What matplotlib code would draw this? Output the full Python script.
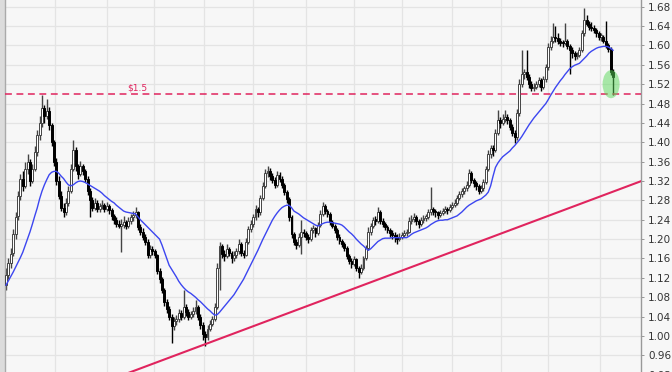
import matplotlib
matplotlib.use("Agg")
import matplotlib.pyplot as plt
from matplotlib.patches import Ellipse, Rectangle
import numpy as np

# ---- data ----
opens = [
 1.105,1.125,1.150,1.172,1.210,1.248,1.290,1.325,1.310,1.345,
 1.360,1.320,1.345,1.380,1.415,1.440,1.470,1.455,1.465,1.435,
 1.400,1.360,1.320,1.290,1.265,1.255,1.275,1.300,1.345,1.385,
 1.350,1.335,1.350,1.340,1.325,1.300,1.280,1.265,1.275,1.262,
 1.268,1.270,1.262,1.268,1.260,1.248,1.240,1.232,1.228,1.230,
 1.236,1.228,1.238,1.245,1.250,1.255,1.225,1.215,1.205,1.195,
 1.168,1.180,1.175,1.168,1.135,1.118,1.095,1.070,1.055,1.040,
 1.020,1.030,1.035,1.048,1.040,1.060,1.050,1.040,1.045,1.052,
 1.060,1.040,1.022,1.005,0.998,1.015,1.025,1.035,1.060,1.140,
 1.185,1.170,1.165,1.180,1.172,1.160,1.168,1.175,1.190,1.172,
 1.168,1.195,1.220,1.232,1.245,1.262,1.255,1.285,1.310,1.336,
 1.340,1.330,1.322,1.312,1.332,1.325,1.312,1.298,1.282,1.245,
 1.210,1.195,1.188,1.205,1.215,1.212,1.205,1.200,1.218,1.222,
 1.212,1.230,1.252,1.268,1.258,1.252,1.236,1.228,1.218,1.205,
 1.196,1.190,1.182,1.165,1.155,1.148,1.158,1.140,1.132,1.140,
 1.160,1.182,1.215,1.228,1.240,1.238,1.255,1.238,1.232,1.225,
 1.218,1.212,1.208,1.205,1.200,1.205,1.208,1.212,1.215,1.238,
 1.242,1.246,1.238,1.232,1.240,1.244,1.246,1.255,1.262,1.258,
 1.255,1.250,1.254,1.258,1.262,1.260,1.266,1.270,1.275,1.285,
 1.294,1.300,1.305,1.312,1.336,1.322,1.315,1.310,1.300,1.305,
 1.318,1.345,1.375,1.388,1.384,1.420,1.446,1.440,1.448,1.452,
 1.446,1.432,1.420,1.410,1.460,1.520,1.540,1.545,1.535,1.520,
 1.512,1.515,1.520,1.528,1.514,1.530,1.556,1.597,1.610,1.618,
 1.615,1.610,1.606,1.604,1.610,1.598,1.590,1.584,1.578,1.580,
 1.590,1.625,1.653,1.645,1.638,1.636,1.632,1.625,1.618,1.618,
 1.610,1.600,1.592,1.545]
highs = [
 1.140,1.160,1.182,1.220,1.255,1.300,1.335,1.340,1.360,1.375,
 1.365,1.355,1.392,1.425,1.455,1.497,1.478,1.490,1.472,1.440,
 1.405,1.368,1.330,1.300,1.275,1.285,1.310,1.355,1.405,1.390,
 1.356,1.362,1.355,1.345,1.330,1.305,1.288,1.285,1.280,1.275,
 1.280,1.274,1.276,1.272,1.264,1.252,1.246,1.240,1.242,1.248,
 1.240,1.246,1.252,1.258,1.266,1.258,1.232,1.222,1.210,1.200,
 1.188,1.186,1.180,1.170,1.140,1.122,1.100,1.076,1.062,1.045,
 1.040,1.044,1.056,1.054,1.095,1.065,1.055,1.052,1.060,1.074,
 1.064,1.045,1.028,1.010,1.022,1.032,1.042,1.068,1.150,1.195,
 1.190,1.178,1.190,1.184,1.176,1.175,1.182,1.200,1.194,1.178,
 1.202,1.228,1.240,1.252,1.270,1.266,1.292,1.318,1.345,1.350,
 1.346,1.336,1.328,1.340,1.338,1.330,1.316,1.302,1.286,1.250,
 1.214,1.200,1.212,1.240,1.220,1.216,1.210,1.226,1.230,1.226,
 1.236,1.260,1.277,1.272,1.262,1.256,1.240,1.232,1.222,1.210,
 1.200,1.194,1.186,1.170,1.160,1.165,1.162,1.145,1.148,1.166,
 1.188,1.226,1.234,1.246,1.248,1.267,1.260,1.244,1.236,1.230,
 1.224,1.218,1.214,1.210,1.212,1.214,1.218,1.220,1.245,1.250,
 1.254,1.250,1.242,1.246,1.250,1.252,1.262,1.308,1.266,1.262,
 1.258,1.260,1.264,1.268,1.266,1.272,1.276,1.282,1.292,1.300,
 1.306,1.310,1.320,1.345,1.340,1.326,1.320,1.314,1.312,1.325,
 1.352,1.384,1.395,1.394,1.428,1.466,1.452,1.458,1.466,1.458,
 1.450,1.438,1.425,1.468,1.530,1.590,1.552,1.590,1.540,1.526,
 1.522,1.526,1.535,1.532,1.536,1.562,1.605,1.620,1.646,1.640,
 1.625,1.615,1.612,1.646,1.614,1.602,1.596,1.588,1.586,1.596,
 1.632,1.677,1.662,1.650,1.648,1.642,1.636,1.630,1.626,1.622,
 1.650,1.606,1.596,1.552]
lows = [
 1.095,1.118,1.140,1.165,1.200,1.240,1.280,1.300,1.305,1.335,
 1.310,1.315,1.340,1.372,1.405,1.432,1.440,1.448,1.425,1.392,
 1.350,1.312,1.282,1.258,1.245,1.250,1.268,1.295,1.340,1.340,
 1.325,1.330,1.332,1.318,1.292,1.245,1.258,1.260,1.255,1.256,
 1.262,1.255,1.258,1.252,1.240,1.232,1.225,1.222,1.174,1.224,
 1.220,1.224,1.232,1.238,1.244,1.218,1.208,1.198,1.188,1.160,
 1.162,1.168,1.160,1.128,1.110,1.088,1.062,1.048,1.032,0.985,
 1.012,1.022,1.028,1.032,1.036,1.042,1.032,1.035,1.040,1.046,
 1.034,1.015,0.992,0.980,0.992,1.010,1.020,1.030,1.055,1.095,
 1.160,1.155,1.160,1.165,1.150,1.155,1.162,1.170,1.165,1.160,
 1.165,1.190,1.214,1.226,1.240,1.245,1.250,1.280,1.305,1.328,
 1.322,1.315,1.305,1.308,1.318,1.305,1.292,1.275,1.238,1.202,
 1.188,1.180,1.184,1.170,1.205,1.198,1.192,1.196,1.212,1.205,
 1.208,1.226,1.248,1.252,1.245,1.230,1.222,1.212,1.198,1.190,
 1.184,1.176,1.158,1.148,1.140,1.144,1.134,1.120,1.128,1.136,
 1.156,1.178,1.208,1.222,1.230,1.234,1.232,1.226,1.218,1.212,
 1.205,1.200,1.195,1.190,1.196,1.200,1.204,1.206,1.212,1.232,
 1.236,1.230,1.224,1.228,1.234,1.238,1.242,1.250,1.250,1.246,
 1.242,1.245,1.250,1.254,1.252,1.256,1.262,1.266,1.270,1.280,
 1.288,1.294,1.300,1.308,1.315,1.308,1.302,1.294,1.296,1.300,
 1.314,1.340,1.368,1.372,1.380,1.415,1.430,1.435,1.442,1.438,
 1.425,1.412,1.398,1.405,1.455,1.515,1.530,1.528,1.512,1.505,
 1.506,1.510,1.515,1.506,1.510,1.525,1.550,1.590,1.604,1.608,
 1.602,1.598,1.596,1.600,1.592,1.540,1.575,1.570,1.572,1.576,
 1.586,1.620,1.640,1.632,1.630,1.626,1.618,1.612,1.610,1.604,
 1.595,1.586,1.538,1.497]
closes = [
 1.125,1.150,1.170,1.210,1.245,1.290,1.325,1.310,1.345,1.360,
 1.320,1.345,1.380,1.415,1.440,1.470,1.455,1.465,1.435,1.400,
 1.360,1.320,1.290,1.265,1.255,1.275,1.300,1.345,1.385,1.350,
 1.335,1.350,1.340,1.325,1.300,1.280,1.265,1.275,1.262,1.268,
 1.270,1.262,1.268,1.260,1.248,1.240,1.232,1.228,1.230,1.236,
 1.228,1.238,1.245,1.250,1.255,1.225,1.215,1.205,1.195,1.168,
 1.180,1.175,1.168,1.135,1.118,1.095,1.070,1.055,1.040,1.020,
 1.030,1.035,1.048,1.040,1.060,1.050,1.040,1.045,1.052,1.060,
 1.040,1.022,1.005,0.998,1.015,1.025,1.035,1.060,1.140,1.185,
 1.170,1.165,1.180,1.172,1.160,1.168,1.175,1.190,1.172,1.168,
 1.195,1.220,1.232,1.245,1.262,1.255,1.285,1.310,1.336,1.340,
 1.330,1.322,1.312,1.332,1.325,1.312,1.298,1.282,1.245,1.210,
 1.195,1.188,1.205,1.215,1.212,1.205,1.200,1.218,1.222,1.212,
 1.230,1.252,1.268,1.258,1.252,1.236,1.228,1.218,1.205,1.196,
 1.190,1.182,1.165,1.155,1.148,1.158,1.140,1.132,1.140,1.160,
 1.182,1.215,1.228,1.240,1.238,1.255,1.238,1.232,1.225,1.218,
 1.212,1.208,1.205,1.200,1.205,1.208,1.212,1.215,1.238,1.242,
 1.246,1.238,1.232,1.240,1.244,1.246,1.255,1.262,1.258,1.255,
 1.250,1.254,1.258,1.262,1.260,1.266,1.270,1.275,1.285,1.294,
 1.300,1.305,1.312,1.336,1.322,1.315,1.310,1.300,1.305,1.318,
 1.345,1.375,1.388,1.384,1.420,1.446,1.440,1.448,1.452,1.446,
 1.432,1.420,1.410,1.460,1.520,1.540,1.545,1.535,1.520,1.512,
 1.515,1.520,1.528,1.514,1.530,1.556,1.597,1.610,1.618,1.615,
 1.610,1.606,1.604,1.610,1.598,1.590,1.584,1.578,1.580,1.590,
 1.625,1.653,1.645,1.638,1.636,1.632,1.625,1.618,1.618,1.610,
 1.600,1.592,1.545,1.535]
moving_avg = [
 1.105,1.114,1.123,1.132,1.142,1.152,1.162,1.173,1.187,1.201,
 1.215,1.231,1.248,1.264,1.283,1.299,1.312,1.323,1.333,1.338,
 1.340,1.340,1.336,1.330,1.325,1.318,1.312,1.310,1.312,1.316,
 1.319,1.320,1.319,1.317,1.314,1.311,1.308,1.305,1.302,1.299,
 1.295,1.290,1.286,1.282,1.278,1.275,1.270,1.266,1.262,1.258,
 1.256,1.255,1.254,1.253,1.252,1.246,1.240,1.235,1.230,1.225,
 1.220,1.215,1.210,1.205,1.200,1.188,1.174,1.160,1.146,1.138,
 1.130,1.122,1.113,1.106,1.100,1.095,1.091,1.088,1.084,1.080,
 1.075,1.071,1.066,1.061,1.056,1.052,1.047,1.043,1.044,1.049,
 1.055,1.061,1.067,1.073,1.079,1.085,1.093,1.101,1.109,1.117,
 1.127,1.137,1.147,1.157,1.167,1.177,1.188,1.199,1.209,1.219,
 1.229,1.239,1.247,1.254,1.260,1.265,1.268,1.270,1.270,1.265,
 1.258,1.255,1.252,1.248,1.244,1.241,1.238,1.235,1.232,1.229,
 1.227,1.229,1.232,1.234,1.235,1.235,1.234,1.233,1.232,1.231,
 1.229,1.225,1.220,1.215,1.211,1.206,1.200,1.195,1.190,1.186,
 1.181,1.177,1.180,1.185,1.190,1.195,1.198,1.201,1.202,1.202,
 1.202,1.203,1.203,1.203,1.203,1.203,1.203,1.203,1.206,1.210,
 1.213,1.215,1.217,1.219,1.221,1.223,1.226,1.230,1.233,1.236,
 1.238,1.239,1.239,1.240,1.240,1.242,1.244,1.246,1.248,1.252,
 1.256,1.261,1.266,1.270,1.273,1.276,1.279,1.281,1.283,1.287,
 1.291,1.297,1.310,1.330,1.348,1.357,1.364,1.370,1.374,1.378,
 1.382,1.388,1.393,1.399,1.405,1.412,1.420,1.428,1.436,1.443,
 1.450,1.456,1.462,1.468,1.474,1.480,1.488,1.497,1.505,1.513,
 1.520,1.527,1.533,1.540,1.546,1.552,1.556,1.559,1.561,1.563,
 1.568,1.573,1.578,1.584,1.588,1.591,1.594,1.596,1.597,1.598,
 1.598,1.597,1.594,1.590]
month_starts = [20.5, 42, 61.5, 82.5, 103, 125, 145, 165, 186, 206.5, 226, 247.5]
y_ticks = [0.92, 0.96, 1.00, 1.04, 1.08, 1.12, 1.16, 1.20, 1.24, 1.28, 1.32,
           1.36, 1.40, 1.44, 1.48, 1.52, 1.56, 1.60, 1.64, 1.68]
resistance_level = 1.5
resistance_label = r"\$1.5"
trend_anchor = (83, 0.983)
trend_slope = 0.001853
highlight_center = (252.2, 1.520)

# ---- figure ----
W, H = 672, 372
fig = plt.figure(figsize=(W / 100, H / 100), dpi=100, facecolor="#f7f7f7")
ax_left, ax_right = 5, 641
ymin, ymax = 0.91, 1.6938
px_per_unit = 484.25
ax_h_px = (ymax - ymin) * px_per_unit
ax = fig.add_axes([ax_left / W, (H - ax_h_px) / H, (ax_right - ax_left) / W, ax_h_px / H])
ax.set_facecolor("#f7f7f7")

n = len(closes)
x = np.arange(n)
o = np.array(opens); c = np.array(closes); h = np.array(highs); l = np.array(lows)
up = c >= o

# grid
for yt in y_ticks:
    ax.axhline(yt, color="#e4e4e4", lw=0.9, zorder=0)
for m in month_starts:
    ax.axvline(m, color="#e4e4e4", lw=0.9, zorder=0)

# wicks
ax.vlines(x[up], l[up], h[up], color="#444444", lw=1.0, zorder=2)
ax.vlines(x[~up], l[~up], h[~up], color="#000000", lw=1.0, zorder=2)
# bodies
bw = 0.8
body_bottom = np.minimum(o, c)
body_h = np.maximum(np.abs(c - o), 0.003)
ax.bar(x[up], body_h[up], bottom=body_bottom[up], width=bw, color="white",
       edgecolor="#444444", linewidth=0.7, zorder=3)
ax.bar(x[~up], body_h[~up], bottom=body_bottom[~up], width=bw, color="black",
       edgecolor="black", linewidth=0.7, zorder=3)

# moving average
ax.plot(x, moving_avg, color="#3c46f0", lw=1.0, zorder=4)

# resistance line
ax.axhline(resistance_level, color="#e0245e", lw=1.1, ls=(0, (4.5, 3)), zorder=5)
ax.text(54.6, resistance_level + 0.003, resistance_label, color="#e0245e",
        fontsize=6.5, ha="center", va="bottom", zorder=5)

# trend line
ax.axline(trend_anchor, slope=trend_slope, color="#e0245e", lw=1.5, zorder=5)

# highlight
ax.add_patch(Ellipse(highlight_center, width=7.1, height=0.058,
                     facecolor=(0.35, 0.85, 0.35, 0.5), edgecolor="none", zorder=6))

px_per_bar = 607 / 253
ax.set_xlim(-(1 / px_per_bar), 253 + 28 / px_per_bar)
ax.set_ylim(ymin, ymax)
ax.set_xticks([])
ax.yaxis.tick_right()
ax.set_yticks(y_ticks)
ax.set_yticklabels([f"{v:.2f}" for v in y_ticks])
ax.tick_params(axis="y", length=2, width=0.6, color="#888888", labelsize=7.5,
               labelcolor="#333333", pad=3)
for s in ["top", "bottom"]:
    ax.spines[s].set_visible(False)
ax.spines["right"].set_color("#999999")
ax.spines["right"].set_linewidth(1.0)
ax.spines["left"].set_color("#aaaaaa")
ax.spines["left"].set_linewidth(1.0)

# gray strip at far left
fig.patches.append(Rectangle((0, 0), ax_left / W, 1, transform=fig.transFigure,
                             facecolor="#dcdcdc", edgecolor="none", zorder=-1))

fig.savefig("out.png", dpi=100, facecolor=fig.get_facecolor())
